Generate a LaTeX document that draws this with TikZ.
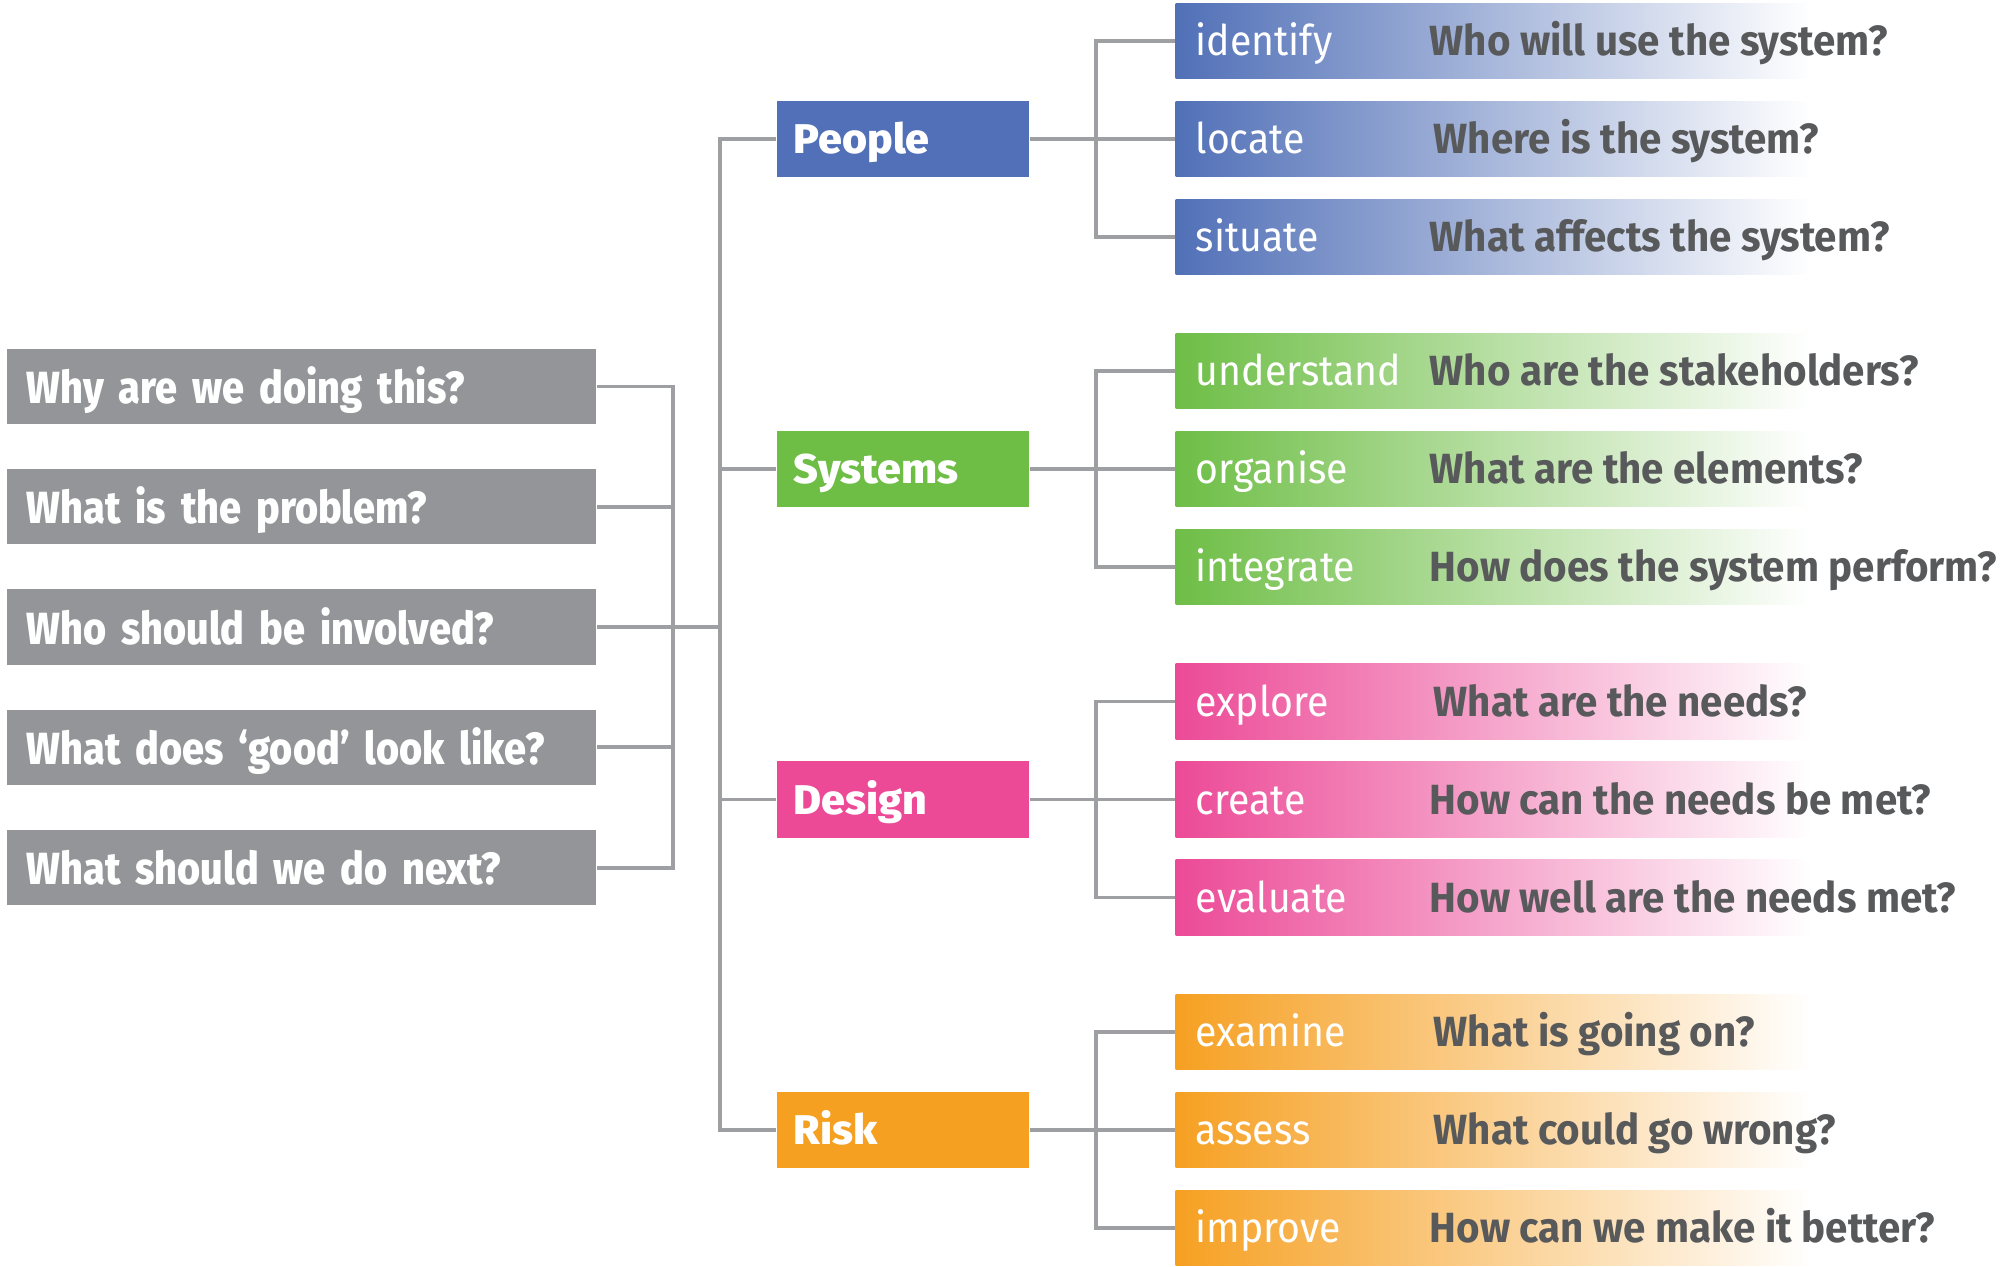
\documentclass[tikz,border=0pt]{standalone}
\usepackage{fontspec}
\setmainfont{Fira Sans}
\newfontfamily\whyfont{Fira Sans}[FakeStretch=0.88,BoldFont=* ExtraBold]
\newfontfamily\areafont{Fira Sans}[FakeStretch=1.035,BoldFont=* ExtraBold]
\newfontfamily\verbfont{Fira Sans}[FakeStretch=0.93]
\newfontfamily\askfont{Fira Sans}[FakeStretch=0.955]
\usepackage{tikz}

\definecolor{boxgray}{HTML}{939598}
\definecolor{linegray}{HTML}{9D9FA2}
\definecolor{qgray}{HTML}{58595B}
\definecolor{pblue}{HTML}{5170B7}
\definecolor{sgreen}{HTML}{6EBE46}
\definecolor{dpink}{HTML}{EC4A97}
\definecolor{rorange}{HTML}{F6A022}

\begin{document}
\begin{tikzpicture}[x=0.01cm,y=-0.01cm,
  why/.style={fill=boxgray,text=white,anchor=west,inner xsep=0.2cm,inner ysep=0pt,
    minimum height=0.75cm,text width=5.49cm,text height=0.34cm,text depth=0pt,align=left,
    font=\whyfont\fontsize{12.8}{14}\selectfont\bfseries},
  area/.style={fill=#1,text=white,anchor=west,inner xsep=0.17cm,inner ysep=0pt,
    minimum height=0.76cm,text width=2.18cm,text height=0.29cm,text depth=0pt,align=left,
    font=\areafont\fontsize{11.8}{14}\selectfont\bfseries},
  verb/.style={left color=#1,right color=white,text=white,anchor=west,inner xsep=0.2cm,inner ysep=0pt,
    minimum height=0.75cm,text width=5.95cm,text height=0.29cm,text depth=0pt,align=left,
    font=\verbfont\fontsize{12}{14}\selectfont},
  ask/.style={anchor=west,inner sep=0pt,text=qgray,text height=0.29cm,text depth=0pt,
    font=\askfont\fontsize{12}{14}\selectfont\bfseries},
  link/.style={draw=linegray,line width=1.1pt}]
\useasboundingbox (0,0) rectangle (2000,1266);

\node[why] (q1) at (6,386.5) {Why are we doing this?};
\node[why] (q2) at (6,506.8) {What is the problem?};
\node[why] (q3) at (6,627) {Who should be involved?};
\node[why] (q4) at (6,747.4) {What does ‘good’ look like?};
\node[why] (q5) at (6,867.7) {What should we do next?};

\node[area=pblue] (p) at (776,138.7) {People};
\node[area=sgreen] (s) at (776,469.1) {Systems};
\node[area=dpink] (d) at (776,799.5) {Design};
\node[area=rorange] (r) at (776,1129.9) {Risk};

\node[verb=pblue] (p1) at (1175,40.7) {identify};
\node[verb=pblue] (p2) at (1175,138.7) {locate};
\node[verb=pblue] (p3) at (1175,236.7) {situate};
\node[verb=sgreen] (s1) at (1175,371.1) {understand};
\node[verb=sgreen] (s2) at (1175,469.1) {organise};
\node[verb=sgreen] (s3) at (1175,567.1) {integrate};
\node[verb=dpink] (d1) at (1175,701.5) {explore};
\node[verb=dpink] (d2) at (1175,799.5) {create};
\node[verb=dpink] (d3) at (1175,897.5) {evaluate};
\node[verb=rorange] (r1) at (1175,1031.9) {examine};
\node[verb=rorange] (r2) at (1175,1129.9) {assess};
\node[verb=rorange] (r3) at (1175,1227.9) {improve};

\node[ask] (p1q) at (1429,40.7) {Who will use the system?};
\node[ask] (p2q) at (1433,138.7) {Where is the system?};
\node[ask] (p3q) at (1429,236.7) {What affects the system?};
\node[ask] (s1q) at (1429,371.1) {Who are the stakeholders?};
\node[ask] (s2q) at (1429,469.1) {What are the elements?};
\node[ask] (s3q) at (1429,567.1) {How does the system perform?};
\node[ask] (d1q) at (1433,701.5) {What are the needs?};
\node[ask] (d2q) at (1429,799.5) {How can the needs be met?};
\node[ask] (d3q) at (1429,897.5) {How well are the needs met?};
\node[ask] (r1q) at (1433,1031.9) {What is going on?};
\node[ask] (r2q) at (1433,1129.9) {What could go wrong?};
\node[ask] (r3q) at (1429,1227.9) {How can we make it better?};

% questions into the trunk
\draw[link] (q1.east) -- ++(76,0) |- (q5.east) (q2.east) -- ++(76,0) (q4.east) -- ++(76,0);
\draw[link] (q3.east) -- ++(125,0);
\draw[link] (p.west) -- ++(-56,0) |- (r.west) (s.west) -- ++(-56,0) (d.west) -- ++(-56,0);

% areas into their steps
\foreach \a in {p,s,d,r} {
  \draw[link] (\a1.west) -- ++(-79,0) |- (\a3.west) (\a.east) -- (\a2.west);
}
\end{tikzpicture}
\end{document}
